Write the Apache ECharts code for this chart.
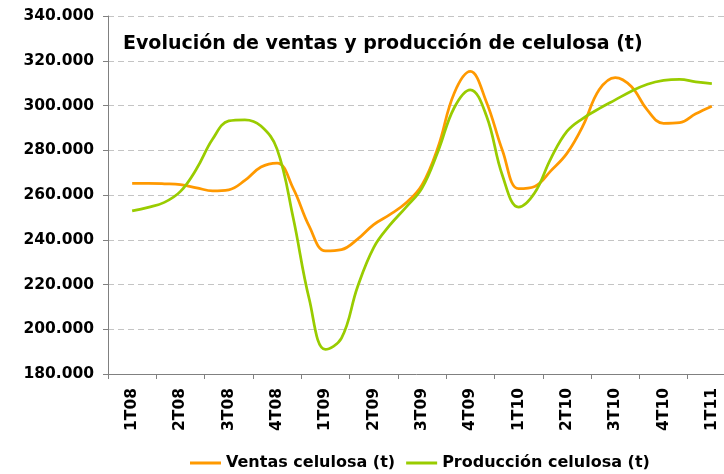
<!DOCTYPE html>
<html>
<head>
<meta charset="utf-8">
<script src="https://cdn.jsdelivr.net/npm/echarts@6/dist/echarts.min.js"></script>
<style>
  html, body { margin: 0; padding: 0; background: #fff; }
  #chart { width: 724px; height: 474px; }
</style>
</head>
<body>
<div id="chart"></div>
<script>
// quarters shown on the axis
const quarters = ['1T08', '2T08', '3T08', '4T08', '1T09', '2T09', '3T09', '4T09',
  '1T10', '2T10', '3T10', '4T10', '1T11'];

// monthly values (t), first point at 1T08, last at 1T11
const ventas = [
  265200, 265200, 265000, 264600, 263200, 261800, 262300, 266500, 272500, 274300,
  263000, 246000, 235000, 235600, 240300, 246800, 251200, 256400, 264500, 281500,
  305500, 315200, 301600, 279800, 262800, 263800, 270800, 278600, 291000, 307000,
  312500, 308500, 297900, 292000, 292300, 296300, 299700
];
const produccion = [
  252900, 254500, 256700, 261600, 271700, 285000, 293100, 293600, 290800, 280500,
  249800, 213400, 191000, 196000, 219000, 236500, 246500, 254500, 263100, 279600,
  299000, 307000, 295400, 268600, 254600, 261000, 276300, 288400, 294300, 298600,
  302500, 306400, 309500, 311200, 311700, 310600, 309800
];

const font = 'DejaVu Sans';
const axisGray = '#808080';

const myChart = echarts.init(document.getElementById('chart'));

// months per quarter = 3, quarter q centred on month 3q
const toPairs = arr => arr.map((v, i) => [i, v]);

myChart.setOption({
  animation: false,
  title: {
    text: 'Evolución de ventas y producción de celulosa (t)',
    left: 118,
    top: 30,
    textStyle: { fontFamily: font, fontSize: 19, fontWeight: 'bold', color: '#000' },
  },
  legend: {
    left: 185,
    bottom: -2,
    itemWidth: 31,
    itemHeight: 3,
    itemGap: 11,
    icon: 'rect',
    textStyle: { fontFamily: font, fontSize: 16, fontWeight: 'bold', color: '#000' },
    data: ['Ventas celulosa (t)', 'Producción celulosa (t)'],
  },
  grid: { left: 108, top: 16, width: 628, height: 358, outerBoundsMode: 'none', containLabel: false },
  xAxis: [
    {
      type: 'category',
      data: quarters,
      boundaryGap: true,
      axisLine: { lineStyle: { color: axisGray, width: 1 } },
      axisTick: { show: true, length: 5, lineStyle: { color: axisGray } },
      axisLabel: {
        rotate: 90,
        margin: 14,
        fontFamily: font,
        fontSize: 15.5,
        fontWeight: 'bold',
        color: '#000',
      },
      splitLine: { show: false },
    },
    {
      type: 'value',
      show: false,
      min: -1.5,
      max: 37.5,
    },
  ],
  yAxis: {
    type: 'value',
    min: 180000,
    max: 340000,
    interval: 20000,
    axisLine: { show: true, onZero: false, lineStyle: { color: axisGray } },
    axisTick: { show: true, length: 5, lineStyle: { color: axisGray } },
    axisLabel: {
      margin: 14,
      fontFamily: font,
      fontSize: 15.5,
      fontWeight: 'bold',
      color: '#000',
      formatter: v => (v / 1000).toFixed(3),
    },
    splitLine: { lineStyle: { color: '#c4c4c4', type: [6, 4] } },
  },
  series: [
    {
      name: 'Ventas celulosa (t)',
      type: 'line',
      xAxisIndex: 1,
      smooth: 0.4,
      symbol: 'none',
      color: '#FF9900',
      lineStyle: { width: 2.75, color: '#FF9900' },
      data: toPairs(ventas),
    },
    {
      name: 'Producción celulosa (t)',
      type: 'line',
      xAxisIndex: 1,
      smooth: 0.4,
      symbol: 'none',
      color: '#99CC00',
      lineStyle: { width: 2.75, color: '#99CC00' },
      data: toPairs(produccion),
    },
  ],
});
</script>
</body>
</html>
